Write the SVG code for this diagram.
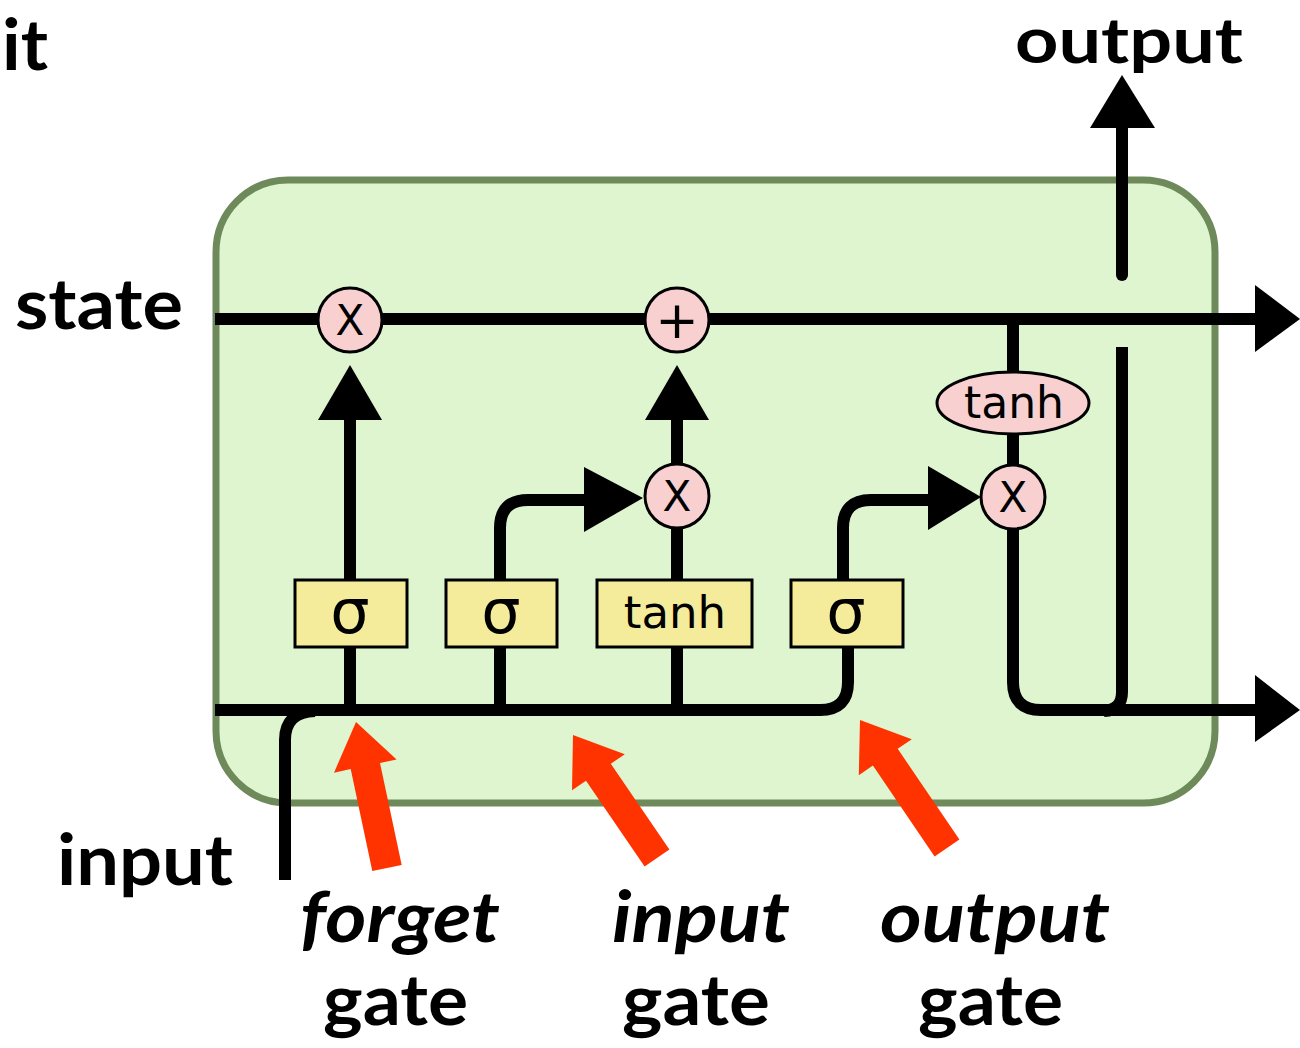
<svg xmlns="http://www.w3.org/2000/svg" width="1300" height="1048" viewBox="0 0 1300 1048">
<style>
.lbl{font-family:"Lato","Open Sans","Liberation Sans",sans-serif;font-weight:700;font-size:70px;fill:#000}
.it{font-style:italic}
.ln{stroke:#000;stroke-width:12;fill:none}
.ah{fill:#000}
.red{fill:#ff3300}
.op{fill:#f8d0d0;stroke:#000;stroke-width:3}
.gate{fill:#f5ec9b;stroke:#000;stroke-width:3}
.gt{font-family:"DejaVu Sans",sans-serif;fill:#000;text-anchor:middle}
</style>
<rect id="cell" x="216" y="180" width="999" height="623" rx="72" ry="72" fill="#dff5cf" stroke="#6f8a5a" stroke-width="7"/>
<g id="connectors">
  <path class="ln" d="M215,319 H1258"/>
  <polygon class="ah" points="1255,285 1300,319 1255,352"/>
  <path class="ln" d="M215,710 H820 Q848,710 848,682 V647"/>
  <path class="ln" d="M285,880 V740 Q285,712 315,711"/>
  <path class="ln" d="M350,647 V710"/>
  <path class="ln" d="M500,647 V710"/>
  <path class="ln" d="M677,647 V710"/>
  <path class="ln" d="M350,579 V418"/>
  <polygon class="ah" points="318,420 350,365 382,420"/>
  <path class="ln" d="M677,579 V528"/>
  <path class="ln" d="M677,463 V418"/>
  <polygon class="ah" points="645,420 677,365 709,420"/>
  <path class="ln" d="M500,579 V528 Q500,500 528,500 H588"/>
  <polygon class="ah" points="584,467 643,498 584,532"/>
  <path class="ln" d="M843,579 V528 Q843,500 871,500 H932"/>
  <polygon class="ah" points="928,466 981,497 928,530"/>
  <path class="ln" d="M1013,319 V372"/>
  <path class="ln" d="M1013,434 V465"/>
  <path class="ln" d="M1013,528 V682 Q1013,710 1041,710 H1258"/>
  <polygon class="ah" points="1255,675 1300,710 1255,742"/>
  <path class="ln" d="M1122,347 V692 Q1122,710 1104,711"/>
  <path class="ln" d="M1122,275 V125" stroke-linecap="round"/>
  <polygon class="ah" points="1090,128 1122,75 1155,128"/>
</g>
<g id="forget_mult"><circle class="op" cx="350" cy="320" r="32"/><text class="gt" x="350" y="335" font-size="42">X</text></g>
<g id="add"><circle class="op" cx="677" cy="320" r="32"/><text class="gt" x="677" y="338" font-size="52">+</text></g>
<g id="input_mult"><circle class="op" cx="677" cy="496" r="32"/><text class="gt" x="677" y="511" font-size="42">X</text></g>
<g id="output_mult"><circle class="op" cx="1013" cy="497" r="32"/><text class="gt" x="1013" y="512" font-size="42">X</text></g>
<g id="output_tanh"><ellipse class="op" cx="1013" cy="403" rx="76" ry="31"/><text class="gt" x="1014" y="418" font-size="44">tanh</text></g>
<g id="forget_sigma"><rect class="gate" x="295" y="580" width="112" height="67"/><text class="gt" x="350" y="633" font-size="62">σ</text></g>
<g id="input_sigma"><rect class="gate" x="446" y="580" width="111" height="67"/><text class="gt" x="501" y="633" font-size="62">σ</text></g>
<g id="input_tanh"><rect class="gate" x="597" y="580" width="155" height="67"/><text class="gt" x="675" y="628" font-size="45">tanh</text></g>
<g id="output_sigma"><rect class="gate" x="791" y="580" width="112" height="67"/><text class="gt" x="846" y="633" font-size="62">σ</text></g>
<g id="red_arrows">
  <polygon class="red" points="401.7,864.9 380,762.9 396.6,759.4 356,722 334,772.7 350.7,769.1 372.3,871.1"/>
  <polygon class="red" points="669.4,849.5 610.8,763.7 624.8,754.2 573,735 572,790.2 586,780.7 644.6,866.5"/>
  <polygon class="red" points="959.4,839.6 897.7,748.8 911.8,739.2 860,720 858.8,775.2 872.9,765.6 934.6,856.4"/>
</g>
<g id="labels">
  <text class="lbl" x="2" y="70" textLength="46" lengthAdjust="spacingAndGlyphs">it</text>
  <text class="lbl" x="1015" y="63" font-size="64" style="font-size:64px" textLength="228" lengthAdjust="spacingAndGlyphs">output</text>
  <text class="lbl" x="15" y="329" textLength="168" lengthAdjust="spacingAndGlyphs">state</text>
  <text class="lbl" x="57" y="885" textLength="176" lengthAdjust="spacingAndGlyphs">input</text>
  <text class="lbl it" x="300" y="942" textLength="200" lengthAdjust="spacingAndGlyphs">forget</text>
  <text class="lbl" x="323" y="1025" textLength="145" lengthAdjust="spacingAndGlyphs">gate</text>
  <text class="lbl it" x="612" y="942" textLength="178" lengthAdjust="spacingAndGlyphs">input</text>
  <text class="lbl" x="622" y="1025" textLength="148" lengthAdjust="spacingAndGlyphs">gate</text>
  <text class="lbl it" x="880" y="942" textLength="230" lengthAdjust="spacingAndGlyphs">output</text>
  <text class="lbl" x="918" y="1025" textLength="145" lengthAdjust="spacingAndGlyphs">gate</text>
</g>
</svg>
